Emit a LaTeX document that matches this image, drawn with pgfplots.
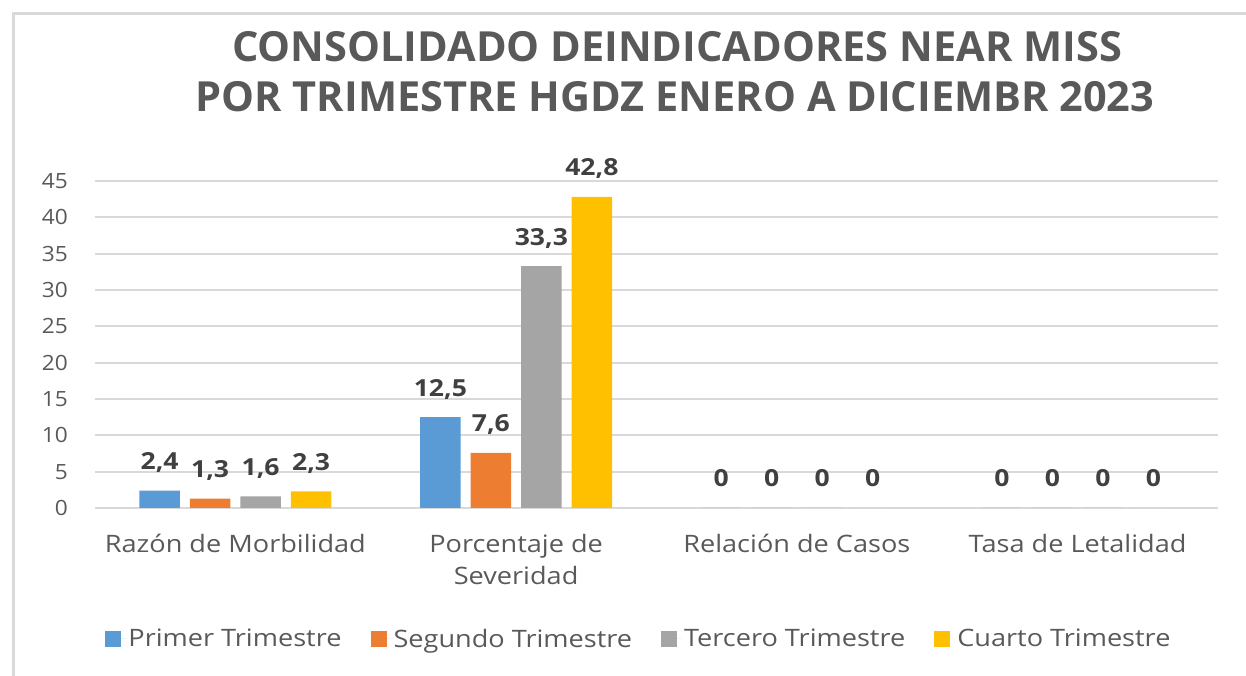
\documentclass[border=0pt]{standalone}
\usepackage{pgfplots}
\pgfplotsset{compat=1.18}
\usepackage{fontspec}
\setmainfont[FakeStretch=1.13]{Open Sans}
\newfontfamily\titlefont{Open Sans}
\newfontfamily\tickfont[FakeStretch=1.08]{Open Sans}
\definecolor{cblue}{HTML}{5B9BD5}
\definecolor{corange}{HTML}{ED7D31}
\definecolor{cgray}{HTML}{A5A5A5}
\definecolor{cyellow}{HTML}{FFC000}
\definecolor{txt}{HTML}{595959}
\definecolor{lab}{HTML}{404040}
\definecolor{gridc}{HTML}{D9D9D9}
\newcommand{\fr}{\rule{0pt}{20bp}}
\begin{document}
\begin{tikzpicture}
\useasboundingbox (0,0) rectangle (1246bp,676bp);
\draw[gridc, line width=3bp] (13bp,0) -- (13bp,662bp) -- (1246bp,662bp);
\node[txt, font=\titlefont\bfseries\fontsize{41.5bp}{50bp}\selectfont, anchor=base] at (677bp,614bp) {CONSOLIDADO DEINDICADORES NEAR MISS};
\node[txt, font=\titlefont\bfseries\fontsize{41.5bp}{50bp}\selectfont, anchor=base] at (675bp,564bp) {POR TRIMESTRE HGDZ ENERO A DICIEMBR 2023};
\begin{axis}[
  at={(95bp,168bp)}, anchor=south west,
  scale only axis, width=1123bp, height=327bp,
  xmin=-0.5, xmax=3.5, ymin=0, ymax=45,
  ybar=10bp, bar width=40.5bp,
  axis line style={draw=none},
  major tick length=0,
  ytick={0,5,...,45},
  ymajorgrids=true, xmajorgrids=false,
  grid style={gridc, line width=2bp},
  xtick={0,1,2,3},
  xticklabels={\fr Razón de Morbilidad, {\fr Porcentaje de\\Severidad}, \fr Relación de Casos, \fr Tasa de Letalidad},
  xticklabel style={txt, font=\fontsize{24bp}{32bp}\selectfont, align=center, anchor=north, inner sep=0pt, yshift=-24bp},
  yticklabel style={txt, font=\tickfont\fontsize{21bp}{25bp}\selectfont, anchor=east, inner sep=0pt, xshift=-27bp},
  /pgf/number format/assume math mode=true,
  point meta=explicit symbolic,
  nodes near coords,
  every node near coord/.append style={lab, font=\bfseries\fontsize{23.5bp}{25bp}\selectfont, anchor=base, inner sep=0pt, yshift=21bp},
  legend style={at={(0.4844,-0.40)}, anchor=center, draw=none, fill=none, legend columns=4,
    font=\fontsize{24bp}{28bp}\selectfont, text=txt, inner sep=0pt,
    /tikz/every even column/.append style={column sep=27bp}},
  legend image code/.code={\fill[#1] (0bp,-8bp) rectangle (16bp,8bp); \path (0bp,0bp) -- (21bp,0bp);},
]
\addplot[fill=cblue, draw=none] table[meta=l] {
x y l
0 2.4 {2,4}
1 12.5 {12,5}
2 0 0
3 0 0
};
\addplot[fill=corange, draw=none] table[meta=l] {
x y l
0 1.3 {1,3}
1 7.6 {7,6}
2 0 0
3 0 0
};
\addplot[fill=cgray, draw=none] table[meta=l] {
x y l
0 1.6 {1,6}
1 33.3 {33,3}
2 0 0
3 0 0
};
\addplot[fill=cyellow, draw=none] table[meta=l] {
x y l
0 2.3 {2,3}
1 42.8 {42,8}
2 0 0
3 0 0
};
\legend{Primer Trimestre, Segundo Trimestre, Tercero Trimestre, Cuarto Trimestre}
\end{axis}
\end{tikzpicture}
\end{document}
